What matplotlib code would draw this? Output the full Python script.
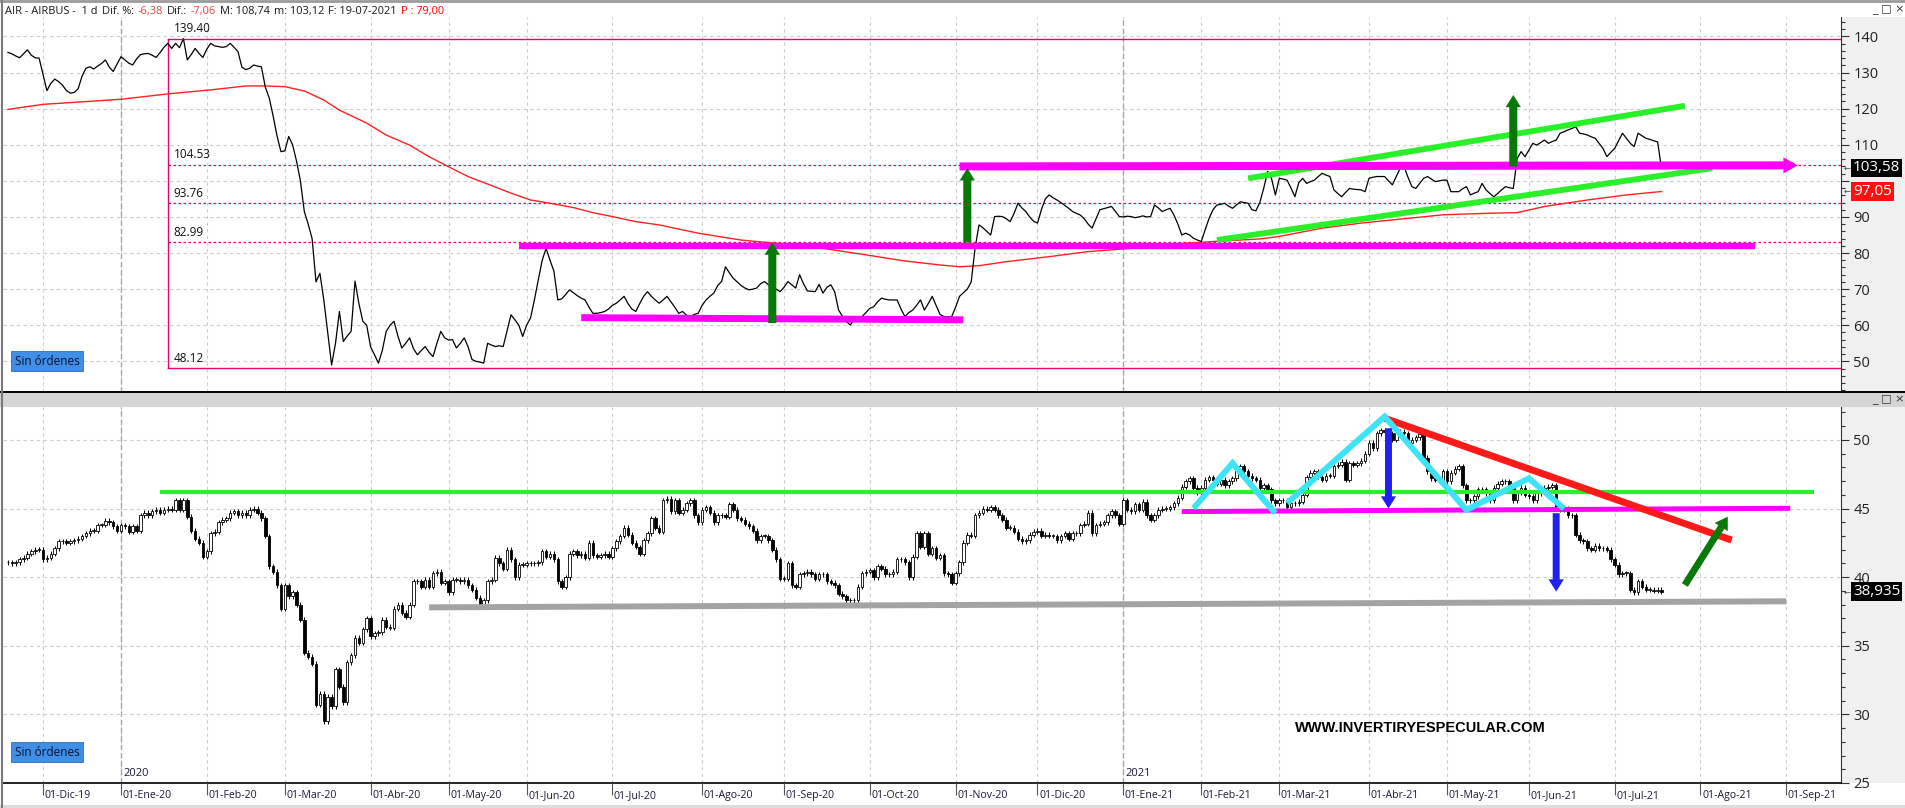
import matplotlib

matplotlib.use("Agg")

import matplotlib.pyplot as plt
import matplotlib.transforms as mtransforms
import numpy as np
import pandas as pd
from matplotlib.lines import Line2D
from matplotlib.patches import Rectangle
from matplotlib.ticker import FuncFormatter, MultipleLocator

plt.rcParams["font.family"] = ["Open Sans", "DejaVu Sans"]

W, H = 1905, 808

# trading calendar (Euronext holidays removed)
FIRST_DAY = "2019-11-19"
LAST_DAY = "2021-09-30"
HOLIDAYS = ["2019-12-25", "2019-12-26", "2020-01-01", "2020-04-10", "2020-04-13",
            "2020-05-01", "2020-12-25", "2021-01-01", "2021-04-02", "2021-04-05"]

# Airbus daily close, 19-11-2019 .. 19-07-2021
AIR_CLOSE = [
    135.6, 135.2, 134.6, 134.1, 135.2, 136.3, 134.8, 134.1, 134.0,
    129.5, 125.0, 127.0, 128.2, 127.5, 126.5, 125.0, 124.3, 124.5, 125.5,
    129.0, 131.2, 131.6, 131.0, 131.8, 132.5, 133.5, 131.5, 130.3, 132.4,
    134.4, 133.5, 132.6, 132.1, 133.8, 135.0, 135.2, 135.3, 134.8, 134.2,
    135.5, 137.0, 138.1, 136.7, 138.1, 136.9, 139.4, 133.5, 135.0, 136.7,
    135.3, 134.2, 136.5, 138.1, 137.4, 137.2, 137.0, 137.2, 138.1, 137.0,
    135.8, 131.5, 130.8, 131.2, 132.1, 131.8, 131.6, 126.0, 123.0, 118.0,
    112.5, 108.1, 108.3, 112.3, 110.0, 105.5, 100.0, 91.5, 88.0, 84.0,
    72.0, 74.4, 67.0, 58.0, 49.0, 55.0, 63.8, 55.5, 57.0, 58.3,
    72.2, 66.0, 61.1, 60.0, 54.0, 51.8, 49.5, 53.0, 58.3, 60.0,
    61.1, 57.0, 53.7, 55.0, 56.5, 53.5, 51.8, 53.0, 54.1, 52.5,
    51.3, 55.0, 58.3, 56.5, 55.9, 56.0, 53.7, 55.0, 56.5, 54.0,
    50.5, 50.0, 49.8, 49.5, 55.0, 54.5, 54.1, 54.3, 54.1, 58.5,
    62.9, 61.5, 60.0, 56.9, 60.0, 62.0, 67.0, 72.6, 78.0, 81.3,
    78.0, 75.0, 67.0, 67.3, 68.5, 69.8, 69.0, 68.2, 67.5, 67.0,
    65.0, 63.3, 63.3, 63.5, 63.8, 64.5, 65.5, 66.1, 67.0, 68.0,
    66.0, 64.5, 63.8, 66.0, 68.0, 69.3, 68.0, 67.0, 66.1, 67.0,
    68.0, 66.5, 65.0, 63.3, 63.8, 62.8, 62.4, 63.0, 63.3, 65.5,
    67.0, 68.0, 68.9, 71.0, 72.1, 76.2, 74.5, 73.0, 72.0, 71.0,
    70.3, 69.8, 70.0, 70.3, 71.5, 72.1, 71.2, 70.5, 70.0, 69.3,
    70.5, 72.1, 71.2, 70.3, 74.0, 71.5, 69.5, 69.4, 69.3, 71.3,
    68.9, 70.5, 71.2, 69.3, 64.2, 62.5, 61.0, 60.1, 61.5, 62.0,
    62.4, 63.5, 64.7, 65.1, 66.5, 67.5, 67.2, 67.0, 67.0, 67.0,
    64.5, 62.4, 63.5, 64.2, 65.5, 67.0, 64.2, 66.0, 68.0, 65.5,
    63.0, 62.4, 62.4, 62.4, 65.0, 68.0, 69.0, 70.0, 72.0, 81.4,
    87.8, 87.0, 86.0, 85.0, 90.1, 90.2, 90.1, 89.5, 88.7, 91.0,
    93.8, 92.5, 91.5, 90.0, 88.8, 88.3, 92.0, 95.0, 96.1, 95.3,
    94.7, 94.0, 93.2, 92.4, 91.5, 91.0, 90.5, 89.5, 88.0, 86.9,
    89.5, 92.0, 92.3, 92.6, 92.9, 91.5, 90.1, 90.0, 90.2, 90.1,
    89.8, 90.0, 90.3, 90.0, 90.1, 93.3, 92.5, 91.5, 92.0, 92.4,
    90.5, 88.0, 85.0, 85.5, 85.0, 84.1, 83.6, 83.2, 86.5, 89.6,
    92.0, 93.3, 93.5, 93.8, 93.0, 92.4, 93.3, 94.2, 94.0, 93.8,
    92.0, 91.7, 94.0, 97.9, 102.6, 100.7, 96.1, 100.7, 100.5, 100.2,
    98.0, 95.6, 99.5, 100.7, 99.3, 99.8, 100.2, 101.2, 102.1, 101.6,
    101.2, 97.5, 96.5, 95.6, 96.8, 97.9, 97.7, 97.6, 97.5, 97.0,
    100.7, 101.0, 101.2, 101.2, 101.2, 100.0, 98.9, 101.2, 103.5, 103.9,
    101.0, 98.4, 97.9, 99.3, 100.7, 101.2, 100.5, 99.8, 100.0, 100.2,
    100.2, 97.0, 97.0, 97.0, 97.8, 98.4, 96.1, 96.6, 97.0, 99.3,
    97.5, 96.5, 95.6, 96.5, 97.5, 98.4, 98.1, 97.9, 106.2, 108.1,
    106.7, 108.5, 110.4, 109.9, 110.6, 111.3, 110.4, 110.9, 111.3, 113.2,
    113.6, 114.1, 114.5, 115.0, 113.2, 113.0, 112.7, 112.2, 111.8, 110.4,
    109.0, 106.7, 107.9, 109.0, 111.1, 113.2, 111.8, 110.4, 109.5, 113.2,
    112.5, 111.8, 111.5, 111.1, 110.8, 103.58,
]

# 200-session average drawn on the Airbus panel
SMA_DATES = [
    "2019-11-19", "2019-12-02", "2020-01-02", "2020-01-20", "2020-02-04", "2020-02-17",
    "2020-02-24", "2020-03-02", "2020-03-09", "2020-03-16", "2020-03-20", "2020-03-31",
    "2020-04-07", "2020-04-17", "2020-04-24", "2020-05-04", "2020-05-11", "2020-05-19",
    "2020-05-26", "2020-06-02", "2020-06-09", "2020-06-17", "2020-06-24", "2020-07-01",
    "2020-07-09", "2020-07-17", "2020-07-31", "2020-08-17", "2020-08-28", "2020-09-15",
    "2020-09-30", "2020-10-14", "2020-10-27", "2020-11-03", "2020-11-10", "2020-11-19",
    "2020-12-04", "2020-12-18", "2021-01-06", "2021-01-20", "2021-02-04", "2021-02-22",
    "2021-03-01", "2021-03-16", "2021-03-30", "2021-04-16", "2021-04-30", "2021-05-17",
    "2021-05-27", "2021-06-07", "2021-06-22", "2021-07-06", "2021-07-19",
]
SMA_VALUES = [
    119.8, 121.2, 122.6, 124.1, 125.2, 126.3, 126.3, 126.1, 124.9, 122.4, 119.6, 116.0,
    112.7, 109.9, 106.7, 103.9, 101.2, 98.7, 96.6, 94.7, 93.8, 92.6, 91.2, 90.1,
    88.7, 87.8, 85.5, 83.6, 82.7, 81.3, 79.5, 77.8, 76.7, 76.2, 76.5, 77.6,
    79.0, 80.4, 81.3, 82.4, 83.2, 83.9, 84.6, 86.9, 88.3, 89.5, 90.6, 91.0,
    91.2, 92.9, 94.7, 96.1, 97.05,
]

FIB_LEVELS = [139.40, 104.53, 93.76, 82.99, 48.12]

# Philips daily close, 19-11-2019 .. 19-07-2021
PHIA_CLOSE = [
    41.1, 41.0, 41.1, 41.3, 41.4, 41.7, 41.9, 42.0, 42.0,
    41.3, 41.4, 41.7, 42.1, 42.6, 42.6, 42.5, 42.6, 42.7, 42.8,
    43.0, 43.2, 43.4, 43.4, 43.8, 43.8, 44.1, 44.0, 43.7, 43.4,
    43.8, 43.7, 43.3, 43.7, 43.4, 44.5, 44.7, 44.5, 44.8, 44.9,
    44.7, 44.9, 45.0, 44.9, 45.6, 44.9, 45.6, 44.4, 43.4, 42.8,
    42.5, 41.5, 41.9, 43.2, 43.3, 44.0, 44.2, 44.3, 44.7, 44.8,
    44.5, 44.7, 44.5, 44.9, 45.0, 44.7, 44.3, 43.0, 40.8, 40.4,
    39.4, 37.7, 39.4, 38.6, 38.9, 38.0, 36.9, 34.5, 34.2, 33.7,
    30.7, 31.5, 29.5, 31.3, 30.6, 33.3, 32.0, 30.9, 33.8, 34.3,
    35.6, 35.2, 36.2, 37.0, 35.7, 35.9, 36.0, 36.9, 36.4, 36.3,
    37.7, 38.0, 37.4, 37.1, 38.0, 39.7, 39.7, 39.3, 39.8, 39.3,
    40.3, 40.4, 39.6, 39.7, 38.9, 39.8, 39.8, 39.7, 39.8, 39.4,
    39.1, 38.5, 38.0, 38.3, 39.7, 39.8, 41.4, 41.0, 40.6, 42.0,
    41.3, 40.0, 40.9, 40.9, 41.0, 41.0, 41.0, 41.1, 41.9, 41.5,
    41.7, 41.3, 39.7, 39.3, 40.0, 41.7, 41.9, 41.6, 41.7, 41.4,
    42.5, 41.6, 41.5, 41.6, 41.7, 41.5, 42.1, 42.6, 43.0, 43.6,
    43.1, 42.5, 42.2, 41.7, 42.7, 43.2, 44.3, 43.6, 43.3, 45.6,
    45.7, 44.8, 45.6, 44.7, 44.9, 45.4, 45.6, 44.5, 44.0, 44.9,
    45.1, 44.7, 44.0, 44.5, 44.5, 44.4, 45.3, 44.9, 44.3, 44.2,
    43.9, 43.7, 43.4, 42.7, 43.0, 43.0, 42.7, 42.0, 41.3, 39.9,
    39.9, 41.0, 39.4, 39.3, 40.2, 40.3, 40.4, 40.2, 39.9, 40.2,
    40.2, 39.7, 39.6, 39.4, 38.8, 38.6, 38.3, 38.3, 38.3, 39.3,
    40.3, 40.4, 40.5, 40.0, 40.8, 40.6, 40.2, 40.2, 40.4, 41.3,
    41.3, 41.1, 40.0, 41.5, 43.2, 42.2, 43.2, 41.7, 42.1, 41.4,
    41.6, 40.3, 40.2, 39.6, 40.3, 41.1, 42.5, 43.1, 43.0, 44.5,
    44.7, 45.0, 44.9, 45.1, 44.9, 44.5, 44.2, 43.6, 43.6, 43.3,
    42.8, 42.6, 42.7, 43.1, 43.3, 43.4, 43.0, 43.1, 43.0, 43.0,
    42.7, 43.0, 43.2, 42.8, 43.2, 43.2, 43.8, 43.9, 44.7, 43.2,
    43.8, 43.9, 44.0, 44.5, 44.8, 44.5, 43.9, 45.6, 44.9, 44.8,
    45.3, 44.9, 45.5, 44.5, 44.2, 44.5, 44.9, 45.0, 45.0, 45.1,
    45.4, 45.8, 46.6, 47.0, 47.2, 46.5, 46.2, 46.5, 47.1, 47.3,
    47.1, 46.8, 47.1, 46.7, 47.0, 47.2, 47.7, 48.1, 47.7, 47.4,
    47.2, 47.1, 46.5, 46.7, 46.4, 45.6, 45.4, 45.6, 45.6, 45.1,
    45.4, 45.4, 45.5, 46.0, 47.3, 47.6, 47.7, 47.3, 47.1, 47.4,
    47.4, 48.1, 48.2, 48.4, 47.1, 48.3, 48.2, 48.3, 48.5, 49.0,
    49.8, 49.4, 50.5, 50.7, 50.6, 50.5, 50.0, 50.5, 50.6, 50.5,
    49.8, 50.0, 50.2, 50.4, 48.7, 47.7, 47.2, 47.1, 47.1, 47.7,
    47.0, 47.6, 47.9, 48.1, 46.7, 45.6, 45.6, 45.9, 46.4, 46.4,
    46.1, 45.6, 46.5, 46.8, 47.0, 47.0, 46.5, 45.6, 46.2, 46.5,
    46.0, 45.9, 45.6, 46.1, 46.4, 46.5, 46.6, 46.7, 45.1, 44.9,
    45.0, 44.5, 44.5, 43.1, 42.7, 42.6, 42.1, 42.0, 42.3, 42.1,
    42.1, 42.0, 41.3, 40.9, 40.2, 40.3, 40.3, 39.1, 38.9, 39.7,
    39.3, 39.1, 39.1, 39.0, 39.1, 38.935,
]

MONTH_LABELS = [
    "01-Dic-19", "01-Ene-20", "01-Feb-20", "01-Mar-20", "01-Abr-20", "01-May-20",
    "01-Jun-20", "01-Jul-20", "01-Ago-20", "01-Sep-20", "01-Oct-20", "01-Nov-20",
    "01-Dic-20", "01-Ene-21", "01-Feb-21", "01-Mar-21", "01-Abr-21", "01-May-21",
    "01-Jun-21", "01-Jul-21", "01-Ago-21", "01-Sep-21",
]

AIR_HEADER = [("AIR - AIRBUS -  1 d", "#1a1a1a"), ("Dif. %:", "#1a1a1a"), ("-6,38", "#e0463c"),
              ("Dif.:", "#1a1a1a"), ("-7,06", "#e0463c"), ("M: 108,74", "#1a1a1a"),
              ("m: 103,12", "#1a1a1a"), ("F: 19-07-2021", "#1a1a1a"), ("P : 79,00", "#ff0000")]
PHIA_HEADER = [("PHIA - PHILIPS KON -  1 d", "#1a1a1a"), ("Dif. %:", "#1a1a1a"), ("-0,31", "#e0463c"),
               ("Dif.:", "#1a1a1a"), ("-0,120", "#e0463c"), ("M: 39,420", "#1a1a1a"),
               ("m: 38,685", "#1a1a1a"), ("F: 19-07-2021", "#1a1a1a"), ("P : 52,790", "#ff0000")]

MAGENTA = "#ff00ff"
FIB = "#f0006e"
LIME = "#2af02a"
DKGREEN = "#087808"
CYAN = "#3fe3f7"
BLUE = "#2020f0"
GRID = "#cdcdcd"

cal = pd.bdate_range(FIRST_DAY, LAST_DAY, freq="C", holidays=HOLIDAYS)


def xi(day):
    return int(cal.searchsorted(pd.Timestamp(day)))


months = pd.period_range("2019-12", "2021-09", freq="M")
month_x = [int(cal.searchsorted(p.start_time)) for p in months]
year_x = [xi("2020-01-01"), xi("2021-01-01")]

XLIM = (-1.26, 470.03)

fig = plt.figure(figsize=(W / 100, H / 100), dpi=100)


def fpt(x, y):
    return x / W, 1 - y / H


def fig_text(x, y, s, **kw):
    fx, fy = fpt(x, y)
    return fig.text(fx, fy, s, **kw)


def fig_rect(x0, y0, x1, y1, color, z=-1):
    fig.add_artist(Rectangle((x0 / W, 1 - y1 / H), (x1 - x0) / W, (y1 - y0) / H,
                             transform=fig.transFigure, fc=color, ec="none", zorder=z))


def fig_line(x0, y0, x1, y1, color, lw):
    fig.add_artist(Line2D([x0 / W, x1 / W], [1 - y0 / H, 1 - y1 / H],
                          transform=fig.transFigure, color=color, lw=lw, zorder=5))


def header(y, parts, size=7.95):
    renderer = fig.canvas.get_renderer()
    x = 5
    for s, c in parts:
        t = fig_text(x, y, s, color=c, fontsize=size, va="center", ha="left")
        x += t.get_window_extent(renderer).width + 4


def style_axes(ax, ylim, major, minor, hidden=()):
    ax.set_xlim(*XLIM)
    ax.set_ylim(*ylim)
    ax.set_xticks([])
    ax.yaxis.tick_right()
    ax.yaxis.set_major_locator(MultipleLocator(major))
    ax.yaxis.set_minor_locator(MultipleLocator(minor))
    ax.yaxis.set_major_formatter(FuncFormatter(
        lambda v, _: "" if round(v) in hidden else f"{v:g}"))
    ax.tick_params(axis="y", which="major", length=6, width=0.8, color="#333333",
                   labelsize=10.5, labelcolor="#222222", pad=3)
    ax.tick_params(axis="y", which="minor", length=3, width=0.8, color="#333333")
    for side in ("top", "bottom", "left"):
        ax.spines[side].set_visible(False)
    ax.spines["right"].set_color("#333333")
    for p in month_x:
        ax.axvline(p, color=GRID, lw=0.8, ls=(0, (3, 3)), zorder=0)
    for p in year_x:
        ax.axvline(p, color="#a8a8a8", lw=1.0, ls=(0, (4, 2)), zorder=0)
    lo, hi = ylim
    for v in np.arange(np.ceil(lo / major) * major, hi, major):
        ax.axhline(v, color=GRID, lw=0.8, ls=(0, (3, 3)), zorder=0)


def seg(ax, pts, color, lw, z=5):
    ax.plot([xi(d) for d, _ in pts], [v for _, v in pts], color=color, lw=lw,
            solid_capstyle="butt", solid_joinstyle="miter", zorder=z)


def arrow(ax, start, end, color, tail=5.8, head_w=11.0, head_l=8.8):
    ax.annotate("", xy=(xi(end[0]), end[1]), xytext=(xi(start[0]), start[1]),
                arrowprops=dict(arrowstyle=f"simple,head_length={head_l / 10},"
                                           f"head_width={head_w / 10},tail_width={tail / 10}",
                                mutation_scale=10, fc=color, ec=color, lw=0,
                                shrinkA=0, shrinkB=0), zorder=7)


# frame pieces around the two panels
fig_rect(1841, 17, 1905, 392, "#f0f0f0")
fig_rect(1841, 407, 1905, 783, "#f0f0f0")
fig_rect(0, 392, 1905, 407, "#d5d5d5", z=4)
fig_rect(0, 805, 1905, 808, "#dcdcdc", z=4)
fig_line(0, 392, 1905, 392, "black", 1.4)
fig_line(0, 1, 1905, 1, "#9a9a9a", 2)
fig_line(1.5, 0, 1.5, 808, "#7a7a7a", 1.5)

# ---------------- Airbus panel ----------------
ax1 = fig.add_axes([3 / W, 1 - 392 / H, 1838 / W, 375 / H])
style_axes(ax1, (41.5, 145.4), 10, 2, hidden=(100,))

box_x = xi("2020-01-20")
for lvl in FIB_LEVELS:
    solid = lvl in (FIB_LEVELS[0], FIB_LEVELS[-1])
    ax1.plot([box_x, XLIM[1]], [lvl, lvl], color=FIB, lw=1.0 if solid else 0.9,
             ls="-" if solid else (0, (2, 2)), zorder=1)
    ax1.text(box_x + 1.5, lvl + 0.9, f"{lvl:.2f}", fontsize=8.5, color="#111111",
             ha="left", va="bottom", zorder=2)
ax1.plot([box_x, box_x], [FIB_LEVELS[-1], FIB_LEVELS[0]], color=FIB, lw=1.0, zorder=1)

ax1.plot(np.arange(len(AIR_CLOSE)), AIR_CLOSE, color="black", lw=0.9, zorder=3)
ax1.plot([xi(d) for d in SMA_DATES], SMA_VALUES, color="#ff2020", lw=1.0, zorder=2)

seg(ax1, [("2020-06-19", 62.1), ("2020-11-04", 61.5)], MAGENTA, 5.0)
seg(ax1, [("2020-05-28", 82.05), ("2021-08-20", 82.05)], MAGENTA, 4.6)
arrow(ax1, ("2020-11-03", 104.0), ("2021-09-06", 104.3), MAGENTA, tail=5.8, head_w=11.5, head_l=10.5)
seg(ax1, [("2021-02-17", 100.7), ("2021-07-27", 120.8)], LIME, 4.2)
seg(ax1, [("2021-02-05", 83.6), ("2021-08-05", 103.5)], LIME, 4.2)
arrow(ax1, ("2020-08-27", 60.6), ("2020-08-27", 82.9), DKGREEN)
arrow(ax1, ("2020-11-05", 82.9), ("2020-11-05", 103.5), DKGREEN)
arrow(ax1, ("2021-05-26", 104.0), ("2021-05-26", 123.8), DKGREEN)

# ---------------- Philips panel ----------------
ax2 = fig.add_axes([3 / W, 1 - 783 / H, 1838 / W, 376 / H])
style_axes(ax2, (25.0, 52.4), 5, 1)
ax2.spines["bottom"].set_visible(True)
ax2.spines["bottom"].set_color("black")
ax2.spines["bottom"].set_linewidth(1.2)

close = np.array(PHIA_CLOSE)
opn = np.r_[close[0], close[:-1]]
xs = np.arange(len(close))
top = np.maximum(opn, close)
bot = np.minimum(opn, close)
ax2.vlines(xs, bot - 0.18, top + 0.18, color="black", lw=0.7, zorder=2)
bull = close >= opn
ax2.bar(xs, np.maximum(top - bot, 0.04), bottom=bot, width=0.66,
        color=np.where(bull, "white", "black"), edgecolor="black", linewidth=0.6, zorder=3)

seg(ax2, [("2020-01-16", 46.19), ("2021-09-10", 46.19)], LIME, 3.0)
seg(ax2, [("2020-04-24", 37.8), ("2021-09-01", 38.24)], "#a3a3a3", 4.3)
seg(ax2, [("2021-01-25", 44.78), ("2021-09-02", 45.02)], MAGENTA, 3.6)
seg(ax2, [("2021-04-09", 51.58), ("2021-08-12", 42.7)], "#ff1a1a", 5.0)
seg(ax2, [("2021-01-28", 45.02), ("2021-02-11", 48.3), ("2021-02-26", 44.66)], CYAN, 4.3, z=6)
seg(ax2, [("2021-03-03", 45.4), ("2021-04-09", 51.7), ("2021-05-10", 44.9),
          ("2021-06-01", 47.2), ("2021-06-14", 45.0)], CYAN, 4.3, z=6)
arrow(ax2, ("2021-04-12", 50.85), ("2021-04-12", 45.0), BLUE, tail=5.0)
arrow(ax2, ("2021-06-10", 44.66), ("2021-06-10", 38.95), BLUE, tail=5.0)
arrow(ax2, ("2021-07-27", 39.43), ("2021-08-11", 44.41), DKGREEN, tail=5.0)

# ---------------- date strip ----------------
ax3 = fig.add_axes([3 / W, 1 - 805 / H, 1838 / W, 22 / H])
ax3.set_xlim(*XLIM)
ax3.set_ylim(0, 1)
ax3.axis("off")
for p, lab in zip(month_x, MONTH_LABELS):
    ax3.vlines(p, 0.45, 1.0, color="#555555", lw=0.8)
    ax3.text(p + 0.4, 0.42, lab, fontsize=7.6, color="#1b1b3a", ha="left", va="center", clip_on=True)

# ---------------- texts and tags ----------------
header(11.5, AIR_HEADER)
header(400, PHIA_HEADER)

for yy in (361, 752):
    fig_text(15, yy, "Sin órdenes", fontsize=8.5, color="#0d1030", ha="left", va="center",
             bbox=dict(boxstyle="square,pad=0.3", fc="#3f8fe6", ec="#2e6cc0", lw=0.6))

fig_text(123, 773, "2020", fontsize=8, color="#1b1b3a", ha="left", va="center")
fig_text(1125, 773, "2021", fontsize=8, color="#1b1b3a", ha="left", va="center")
fig_text(1420, 728, "WWW.INVERTIRYESPECULAR.COM", fontsize=10.5, fontweight="bold",
         family="Liberation Sans", color="black", ha="center", va="center")


def tag(ax, value, text, color):
    tr = mtransforms.blended_transform_factory(fig.transFigure, ax.transData)
    fig.text(1853 / W, value, text, transform=tr, fontsize=11, color="white",
             ha="left", va="center", zorder=6,
             bbox=dict(boxstyle="square,pad=0.12", fc=color, ec="none"))
    fig.text(1844 / W, value, "\u2190", transform=tr, fontsize=6, color="#444444",
             family="DejaVu Sans", ha="left", va="center", zorder=6)


tag(ax1, 103.58, "103,58", "black")
tag(ax1, 97.05, "97,05", "#ff1010")
tag(ax2, 38.935, "38,935", "black")

fig_text(1872, 9, "_ \u25a1 \u00d7", fontsize=8, color="#333333", family="DejaVu Sans",
         ha="left", va="center")
fig_text(1872, 399, "_ \u25a1 \u00d7", fontsize=8, color="#333333", family="DejaVu Sans",
         ha="left", va="center", zorder=6)

fig.savefig("out.png", dpi=100)
